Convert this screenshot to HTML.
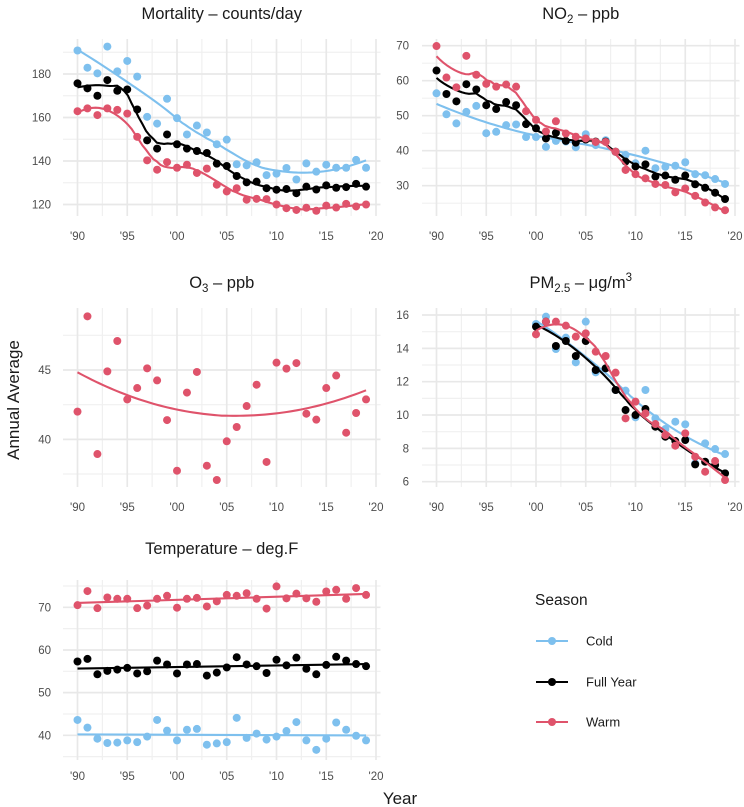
<!DOCTYPE html>
<html><head><meta charset="utf-8"><title>Annual averages</title>
<style>
html,body{margin:0;padding:0;background:#fff;}
svg{display:block;font-family:"Liberation Sans",Arial,sans-serif;}
</style></head>
<body>
<svg id="chart" width="744" height="807" viewBox="0 0 744 807"></svg>
<script>
const years = [1990,1991,1992,1993,1994,1995,1996,1997,1998,1999,2000,2001,2002,2003,2004,2005,2006,2007,2008,2009,2010,2011,2012,2013,2014,2015,2016,2017,2018,2019];
const pmYears = [2000,2001,2002,2003,2004,2005,2006,2007,2008,2009,2010,2011,2012,2013,2014,2015,2016,2017,2018,2019];
const xTickYears = [1990,1995,2000,2005,2010,2015,2020];
const xTickLabels = ["'90","'95","'00","'05","'10","'15","'20"];

const mortCold = [190.8,182.9,180.3,192.6,181.2,186,178.8,160.3,157.2,168.6,159.7,152.2,156.3,153.1,147.7,149.8,138.5,138,139.4,133.5,134.2,136.8,131.5,138.9,135.1,138.3,136.9,136.9,140.5,136.9];
const mortFull = [175.7,173.4,170,177.2,172.3,172.9,163.7,149.5,145.7,152.2,147.7,145.7,144.6,143.7,138.8,137.7,133.1,130.2,130.5,127.5,126.8,127.1,125.2,128.2,126.9,128.8,127.7,128,129.5,128.2];
const mortWarm = [162.9,164.2,161.1,164.2,163.5,161.8,151.1,140.3,136,139.5,136.9,138.3,134.5,136.5,129.1,126,127.5,122.2,122.6,122.5,120,118.3,117.5,118.5,117.1,119.5,118.6,120.3,119.1,120];

const no2Cold = [56.4,50.4,47.8,51.1,52.8,45,45.4,47.3,47.5,43.9,43.9,41.1,42.8,42.6,41,44.7,41.6,43,39.7,38.8,36.4,40,35,35.4,35.7,36.7,33.3,33,31.9,30.5];
const no2Full = [62.9,56.2,54.1,59,57.5,53,51.9,53.9,53,47.6,46.4,43.5,45.1,42.8,42.3,43.2,42.6,42.6,39.7,36.9,35.5,36.1,32.6,32.9,31.7,32.9,30.4,29.4,28,26.2];
const no2Warm = [69.9,60.9,58.1,67.1,61.7,59.1,58.3,58.9,58.3,51.3,48.8,45.5,48.4,44.9,44,43.5,42.5,42.5,39.7,34.5,33.3,32.1,30.5,30.2,28.1,29.2,27.1,25.2,23.8,23.0];

const o3Warm = [42.0,48.87,38.94,44.9,47.09,42.88,43.7,45.12,44.25,41.39,37.74,43.37,44.86,38.1,37.07,39.86,40.89,42.4,43.94,38.37,45.53,45.1,45.5,41.85,41.42,43.7,44.6,40.48,41.9,42.88];

const pmCold = [15.46,15.9,13.96,14.64,13.16,15.6,12.56,12.8,11.5,11.46,9.86,11.5,9.8,9.16,9.6,9.44,7.1,8.3,7.96,7.66];
const pmFull = [15.3,15.6,14.14,14.44,13.54,14.44,12.7,12.8,11.5,10.3,10,10.36,9.3,8.7,8.44,8.5,7.04,7.2,7.0,6.5];
const pmWarm = [14.84,15.6,15.6,15.36,14.7,14.9,13.8,13.54,12.54,9.8,10.8,10.1,9.46,8.8,8.16,8.9,7.5,6.6,7.24,6.1];

const tempCold = [43.6,41.8,39.2,38.2,38.3,38.8,38.4,39.7,43.6,41.1,38.8,41.3,41.5,37.8,38.1,38.4,44.1,39.4,40.4,39,39.7,41,43.1,38.8,36.6,39.2,43,41.3,39.9,38.8];
const tempFull = [57.3,57.9,54.3,55.1,55.4,55.8,54.5,55,57.5,56.6,54.5,56.6,56.7,54,54.7,55.9,58.3,56.6,56.2,54.6,57.7,56.4,58.2,55.6,54.3,56.5,58.4,57.5,56.7,56.2];
const tempWarm = [70.5,73.8,69.8,72.3,72,72,69.8,70.4,72,72.7,69.9,72,72.2,70.2,71.4,72.9,72.7,73.3,72,69.7,74.9,72.1,73.2,72.1,71.3,73.7,74.1,72,74.5,72.9];

const seasonNames = ["Cold","Full Year","Warm"];
const COLORS = {"Cold":"#7EC0EE","Full Year":"#000000","Warm":"#DF536B"};
const NS = "http://www.w3.org/2000/svg";
const svg = document.getElementById('chart');

function el(tag, attrs, parent){
  const e = document.createElementNS(NS, tag);
  for (const k in attrs) e.setAttribute(k, attrs[k]);
  (parent||svg).appendChild(e);
  return e;
}

function loess(xs, ys, span, xe){
  const n = xs.length, q = Math.min(n, Math.max(3, Math.floor(n*span)));
  const d = xs.map(x=>Math.abs(x-xe)).sort((a,b)=>a-b);
  let h = d[q-1]; if (span>1) h *= span; h = Math.max(h,1e-9)*1.000001;
  let S=[[0,0,0],[0,0,0],[0,0,0]], B=[0,0,0];
  for (let i=0;i<n;i++){
    const u = Math.abs(xs[i]-xe)/h; if (u>=1) continue;
    const w = Math.pow(1-u*u*u,3);
    const t = xs[i]-xe, b=[1,t,t*t];
    for (let r=0;r<3;r++){ B[r]+=w*b[r]*ys[i]; for(let c=0;c<3;c++) S[r][c]+=w*b[r]*b[c]; }
  }
  const M = S.map((r,i)=>r.concat([B[i]]));
  for (let c=0;c<3;c++){
    let p=c; for(let r=c+1;r<3;r++) if(Math.abs(M[r][c])>Math.abs(M[p][c])) p=r;
    [M[c],M[p]]=[M[p],M[c]];
    for(let r=0;r<3;r++){ if(r===c) continue; const f=M[r][c]/M[c][c]; for(let k=c;k<4;k++) M[r][k]-=f*M[c][k]; }
  }
  return M[0][3]/M[0][0];
}
function linfit(xs, ys){
  const n=xs.length; let mx=0,my=0; for(let i=0;i<n;i++){mx+=xs[i];my+=ys[i];} mx/=n; my/=n;
  let sxy=0,sxx=0; for(let i=0;i<n;i++){sxy+=(xs[i]-mx)*(ys[i]-my); sxx+=(xs[i]-mx)**2;}
  const b=sxy/sxx; return x=>my+b*(x-mx);
}

const panels = [
  {name:'mortality', left:true, x0:63, x1:380.5, top:39, bottom:216, x90:77.5,
   yRef:120, yRefPx:204.5, pxPerUnit:2.175, ticks:[120,140,160,180], minor:[130,150,170,190],
   title:[['Mortality \u2013 counts/day','']], titleY:19, labelY:240,
   xs:years, series:[['Cold',mortCold,0.75],['Full Year',mortFull,0.33],['Warm',mortWarm,0.4]]},
  {name:'no2', left:false, x0:422, x1:739.5, top:39, bottom:216, x90:436.5,
   yRef:70, yRefPx:45.7, pxPerUnit:3.5, ticks:[30,40,50,60,70], minor:[25,35,45,55,65],
   title:[['NO','' ],['2','sub'],[' \u2013 ppb','']], titleY:19, labelY:240,
   xs:years, series:[['Cold',no2Cold,0.9],['Full Year',no2Full,0.3],['Warm',no2Warm,0.3]]},
  {name:'o3', left:true, x0:63, x1:380.5, top:308, bottom:487, x90:77.5,
   yRef:45, yRefPx:370, pxPerUnit:13.87, ticks:[40,45], minor:[37.5,42.5,47.5],
   title:[['O','' ],['3','sub'],[' \u2013 ppb','']], titleY:288, labelY:511,
   xs:years, series:[['Warm',o3Warm,2.0]]},
  {name:'pm25', left:false, x0:422, x1:739.5, top:308, bottom:487, x90:436.5,
   yRef:16, yRefPx:315, pxPerUnit:16.67, ticks:[6,8,10,12,14,16], minor:[7,9,11,13,15],
   title:[['PM','' ],['2.5','sub'],[' \u2013 \u03BCg/m','' ],['3','sup']], titleY:288, labelY:511,
   xs:pmYears, series:[['Cold',pmCold,0.9],['Full Year',pmFull,0.8],['Warm',pmWarm,0.55]]},
  {name:'temperature', left:true, x0:63, x1:380.5, top:580, bottom:760, x90:77.5,
   yRef:70, yRefPx:607.3, pxPerUnit:4.267, ticks:[40,50,60,70], minor:[35,45,55,65,75],
   title:[['Temperature \u2013 deg.F','']], titleY:554, labelY:780, linear:true,
   xs:years, series:[['Cold',tempCold],['Full Year',tempFull],['Warm',tempWarm]]}
];

panels.forEach(p=>{
  const xS = yr => p.x90 + (yr-1990)*9.95;
  const yS = v => p.yRefPx - (v-p.yRef)*p.pxPerUnit;
  const g = el('g',{});
  
  
  p.minor.forEach(v=>{
    const l = el('line',{x1:p.x0,x2:p.x1,y1:yS(v),y2:yS(v),stroke:'#f0f0f0','stroke-width':1.2},g);
    
    
  });
  [1992.5,1997.5,2002.5,2007.5,2012.5,2017.5].forEach(yr=>{
    const l = el('line',{x1:xS(yr),x2:xS(yr),y1:p.top,y2:p.bottom,stroke:'#f0f0f0','stroke-width':1.2},g);
    
    
  });
  p.ticks.forEach(v=>{
    const l = el('line',{x1:p.x0,x2:p.x1,y1:yS(v),y2:yS(v),stroke:'#e8e8e8','stroke-width':1.7},g);
    
    
    const t = el('text',{x:p.left?51:409,y:yS(v)+4,'text-anchor':'end','font-size':11.5,fill:'#4d4d4d'},g);
    t.textContent = String(v);
    
    
  });
  xTickYears.forEach((yr,i)=>{
    const l = el('line',{x1:xS(yr),x2:xS(yr),y1:p.top,y2:p.bottom,stroke:'#e8e8e8','stroke-width':1.7},g);
    
    
    const t = el('text',{x:xS(yr),y:p.labelY,'text-anchor':'middle','font-size':11.5,fill:'#4d4d4d'},g);
    t.textContent = xTickLabels[i];
    
    
  });
  const tt = el('text',{x:(p.x0+p.x1)/2,y:p.titleY,'text-anchor':'middle','font-size':16.5,fill:'#1a1a1a'},g);
  
  
  let last='';
  p.title.forEach(([s,kind])=>{
    const ts = el('tspan',{},tt);
    if(kind==='sub'){ts.setAttribute('font-size','11.5');ts.setAttribute('dy','4');}
    else if(kind==='sup'){ts.setAttribute('font-size','11.5');ts.setAttribute('dy','-7');}
    else if(last==='sub'){ts.setAttribute('dy','-4');}
    last = kind;
    ts.textContent = s;
  });
  p.series.forEach(([nm,vals,span])=>{
    const col = COLORS[nm];
    const xs = p.xs;
    let pts=[];
    if(p.linear){
      const f = linfit(xs,vals);
      pts=[[xs[0],f(xs[0])],[xs[xs.length-1],f(xs[xs.length-1])]];
    } else {
      const a=xs[0], b=xs[xs.length-1];
      for(let k=0;k<=80;k++){const xx=a+(b-a)*k/80; pts.push([xx,loess(xs,vals,span,xx)]);}
    }
    const path = el('path',{d:pts.map((q,i)=>(i?'L':'M')+xS(q[0]).toFixed(2)+','+yS(q[1]).toFixed(2)).join(''),fill:'none',stroke:col,'stroke-width':2.1},g);
    
    
    vals.forEach((v,i)=>{
      const c = el('circle',{cx:xS(xs[i]),cy:yS(v),r:4,fill:col},g);
      
      
    });
  });
});

(function(){
  const yt = el('text',{x:0,y:0,transform:'translate(19,400) rotate(-90)','text-anchor':'middle','font-size':17,fill:'#1a1a1a'});
  yt.textContent='Annual Average';
  
  
  const xt = el('text',{x:400,y:804,'text-anchor':'middle','font-size':17,fill:'#1a1a1a'});
  xt.textContent='Year';
  
  
  const lg = el('g',{});
  
  
  const lt = el('text',{x:535,y:605,'font-size':15.5,fill:'#1a1a1a'},lg);
  lt.textContent='Season';
  
  
  const ys=[641,682,722];
  seasonNames.forEach((nm,i)=>{
    const ge = el('g',{},lg);
    
    
    el('line',{x1:536,x2:568,y1:ys[i],y2:ys[i],stroke:COLORS[nm],'stroke-width':2.1},ge);
    el('circle',{cx:552,cy:ys[i],r:4,fill:COLORS[nm]},ge);
    const t = el('text',{x:586,y:ys[i]+4.5,'font-size':13,fill:'#1a1a1a'},ge);
    t.textContent=nm;
    
    
  });
})();
</script>
</body></html>
